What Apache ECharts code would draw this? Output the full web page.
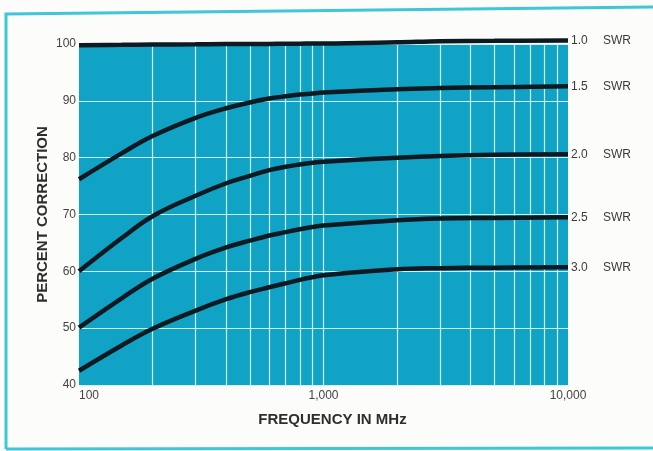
<!DOCTYPE html>
<html>
<head>
<meta charset="utf-8">
<script src="https://cdn.jsdelivr.net/npm/echarts@6/dist/echarts.min.js"></script>
<style>
html,body{margin:0;padding:0;background:#fcfcfa;}
#chart{width:653px;height:451px;}
</style>
</head>
<body>
<div id="chart"></div>
<script>
// Frequency points (MHz) at which the curves were read
const freqMHz = [100, 150, 200, 300, 400, 500, 600, 700, 800, 900, 1000, 2000, 3000, 5000, 10000];
// Percent correction per SWR curve
const swr10 = [99.8, 99.85, 99.9, 99.95, 100, 100, 100, 100.05, 100.05, 100.1, 100.1, 100.3, 100.5, 100.55, 100.6];
const swr15 = [76.2, 80.8, 83.8, 87.0, 88.7, 89.7, 90.4, 90.8, 91.1, 91.3, 91.45, 92.05, 92.25, 92.4, 92.55];
const swr20 = [60.0, 65.9, 69.7, 73.3, 75.5, 76.8, 77.8, 78.4, 78.8, 79.1, 79.3, 80.0, 80.3, 80.5, 80.6];
const swr25 = [50.1, 55.3, 58.7, 62.2, 64.2, 65.4, 66.3, 66.9, 67.4, 67.8, 68.05, 69.0, 69.3, 69.4, 69.5];
const swr30 = [42.5, 47.0, 49.9, 53.1, 55.1, 56.35, 57.2, 57.9, 58.5, 58.95, 59.3, 60.35, 60.55, 60.65, 60.7];
const curveNames = ['1.0', '1.5', '2.0', '2.5', '3.0'];
const curveData = [swr10, swr15, swr20, swr25, swr30];
// Vertical grid lines (MHz)
const vGridValues = [200, 300, 400, 500, 600, 700, 800, 900, 1000, 2000, 3000, 4000, 5000, 6000, 7000, 8000, 9000];
const yTicks = [40, 50, 60, 70, 80, 90, 100];

const chart = echarts.init(document.getElementById('chart'));
const font = 'Liberation Sans, Arial, Helvetica, sans-serif';

const series = curveNames.map((nm, i) => ({
  name: nm + ' SWR',
  type: 'line',
  data: freqMHz.map((f, j) => [f, curveData[i][j]]),
  smooth: 0.4,
  symbol: 'none',
  clip: false,
  z: 5,
  lineStyle: { color: '#0e1a22', width: 4.5 },
  endLabel: {
    show: true,
    distance: 3,
    formatter: () => '{n|' + nm + '}{s|SWR}',
    rich: {
      n: { fontSize: 12, color: '#3a3a3a', fontFamily: font, width: 32 },
      s: { fontSize: 12, color: '#3a3a3a', fontFamily: font }
    }
  }
}));

series.push({
  type: 'line',
  data: [],
  silent: true,
  z: 2,
  markLine: {
    silent: true,
    symbol: 'none',
    label: { show: false },
    lineStyle: { color: '#cdf3f8', width: 1.2, type: 'solid' },
    data: vGridValues.map(v => ({ xAxis: v }))
  }
});

chart.setOption({
  backgroundColor: '#fcfcfa',
  animation: false,
  graphic: [
    { type: 'polyline', z: -10, shape: { points: [[6, 449], [6, 14], [653, 7]] },
      style: { stroke: '#3fc6d8', lineWidth: 3, fill: null } },
    { type: 'polyline', z: -10, shape: { points: [[6, 449], [653, 448]] },
      style: { stroke: '#3fc6d8', lineWidth: 3, fill: null } }
  ],
  grid: {
    left: 79, right: 85, top: 44, bottom: 66,
    show: true, backgroundColor: '#10a3c5', borderWidth: 0
  },
  xAxis: {
    type: 'log', logBase: 10, min: 100, max: 10000,
    name: 'FREQUENCY IN MHz', nameLocation: 'middle', nameGap: 27,
    nameMoveOverlap: false,
    nameTextStyle: { fontSize: 15, fontWeight: 'bold', color: '#2e2e2e', fontFamily: font, padding: [0, 0, 0, 18] },
    axisLine: { show: false }, axisTick: { show: false },
    splitLine: { show: false },
    axisLabel: {
      fontSize: 12, color: '#444', fontFamily: font, margin: 5,
      alignMinLabel: 'left',
      formatter: v => Number(v).toLocaleString('en-US')
    }
  },
  yAxis: {
    type: 'value', min: yTicks[0], max: yTicks[yTicks.length - 1], interval: 10,
    name: 'PERCENT CORRECTION', nameLocation: 'middle', nameGap: 29, nameRotate: 90,
    nameMoveOverlap: false,
    nameTextStyle: { fontSize: 15, fontWeight: 'bold', color: '#2e2e2e', fontFamily: font },
    axisLine: { show: false }, axisTick: { show: false },
    splitLine: { show: true, lineStyle: { color: '#cdf3f8', width: 1.2 } },
    axisLabel: { fontSize: 12, color: '#444', fontFamily: font, margin: 3 }
  },
  series: series
});
</script>
</body>
</html>
